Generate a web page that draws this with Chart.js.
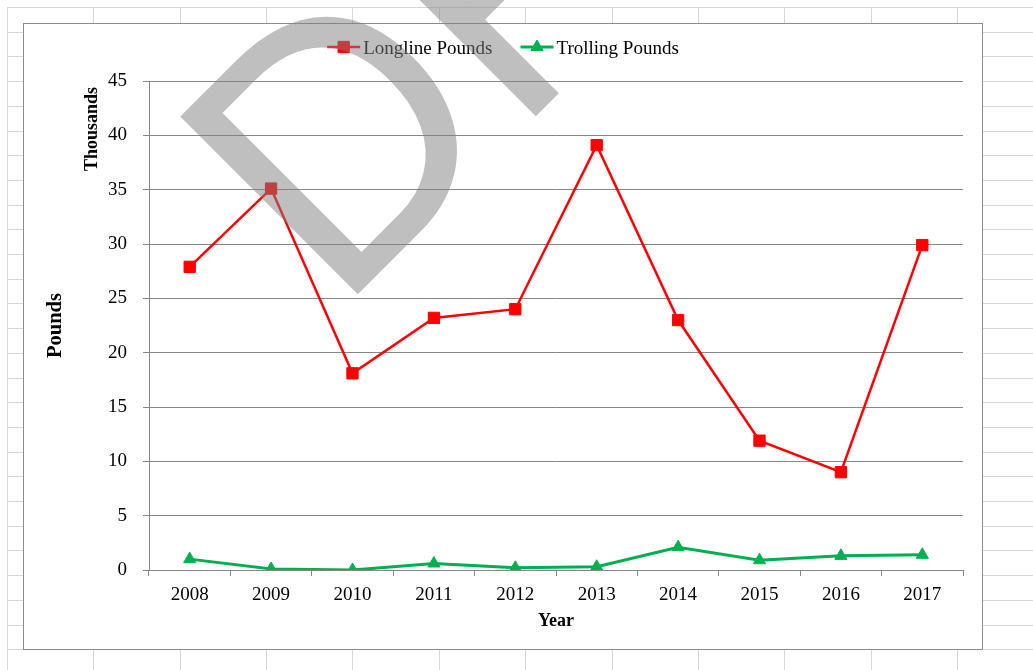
<!DOCTYPE html>
<html>
<head>
<meta charset="utf-8">
<title>Longline and Trolling Pounds</title>
<script src="https://cdn.jsdelivr.net/npm/chart.js@4.4.1/dist/chart.umd.min.js"></script>
<style>
  html, body { margin: 0; padding: 0; background: #fff; }
  body { width: 1033px; height: 670px; position: relative; overflow: hidden; }
  #sheet, #watermark { position: absolute; left: 0; top: 0; }
  #watermark { pointer-events: none; }
  #chart-box {
    position: absolute; left: 23px; top: 23px;
    width: 958px; height: 625px;
    border: 1px solid #8c8c8c; background: #fff;
  }
</style>
</head>
<body>
<canvas id="sheet" width="1033" height="670"></canvas>
<div id="chart-box"><canvas id="pounds-chart"></canvas></div>
<canvas id="watermark" width="1033" height="670"></canvas>
<script>
  // values in thousands of pounds
  const years = ['2008', '2009', '2010', '2011', '2012', '2013', '2014', '2015', '2016', '2017'];
  const longlinePounds = [27.9, 35.1, 18.1, 23.2, 24.0, 39.1, 23.0, 11.9, 9.0, 29.9];
  const trollingPounds = [1.0, 0.1, 0.0, 0.6, 0.2, 0.3, 2.1, 0.9, 1.3, 1.4];
  const yMin = 0;
  const yMax = 45;
  const yStep = 5;

  const serif = "'Liberation Serif', 'Times New Roman', serif";
  const axisGray = '#878787';

  // spreadsheet cells behind the chart
  const sheet = document.getElementById('sheet').getContext('2d');
  sheet.strokeStyle = '#d6d6d6';
  sheet.lineWidth = 1;
  for (let k = 0; k < 13; k++) {
    const x = Math.round(7 + k * 86.36) + 0.5;
    sheet.beginPath(); sheet.moveTo(x, 7); sheet.lineTo(x, 670); sheet.stroke();
  }
  for (let k = 0; k < 28; k++) {
    const y = Math.round(7 + k * 24.7) + 0.5;
    sheet.beginPath(); sheet.moveTo(7, y); sheet.lineTo(1033, y); sheet.stroke();
  }

  // legend: short line with the marker in the middle, like Excel
  const lineLegend = {
    id: 'lineLegend',
    afterDraw: function (chart) {
      const ctx = chart.ctx;
      const sets = chart.data.datasets;
      const lineLen = 33, textGap = 3, itemGap = 28, y = 23;
      ctx.save();
      ctx.font = '19px ' + serif;
      const widths = sets.map(ds => ctx.measureText(ds.label).width);
      let total = itemGap * (sets.length - 1);
      widths.forEach(w => { total += lineLen + textGap + w; });
      let x = chart.width / 2 - total / 2;
      sets.forEach(function (ds, i) {
        ctx.strokeStyle = ds.borderColor;
        ctx.lineWidth = ds.borderWidth;
        ctx.beginPath(); ctx.moveTo(x, y); ctx.lineTo(x + lineLen, y); ctx.stroke();
        ctx.fillStyle = ds.pointBackgroundColor;
        ctx.strokeStyle = ds.pointBorderColor;
        ctx.lineWidth = ds.pointBorderWidth;
        Chart.helpers.drawPoint(ctx, {
          pointStyle: ds.pointStyle, radius: ds.pointRadius,
          borderWidth: ds.pointBorderWidth, rotation: 0
        }, x + lineLen / 2, y);
        ctx.fillStyle = '#000';
        ctx.textAlign = 'left';
        ctx.textBaseline = 'alphabetic';
        ctx.fillText(ds.label, x + lineLen + textGap, y + 6.5);
        x += lineLen + textGap + widths[i] + itemGap;
      });
      ctx.restore();
    }
  };

  // Excel display units label
  const unitsLabel = {
    id: 'unitsLabel',
    afterDraw: function (chart) {
      const ctx = chart.ctx;
      const area = chart.chartArea;
      ctx.save();
      ctx.translate(area.left - 56.5, area.top + 48);
      ctx.rotate(-Math.PI / 2);
      ctx.font = 'bold 18px ' + serif;
      ctx.fillStyle = '#000';
      ctx.textAlign = 'center';
      ctx.textBaseline = 'middle';
      ctx.fillText('Thousands', 0, 0);
      ctx.restore();
    }
  };

  const ctx = document.getElementById('pounds-chart');
  new Chart(ctx, {
    type: 'line',
    data: {
      labels: years,
      datasets: [{
        label: 'Longline Pounds',
        data: longlinePounds,
        borderColor: '#ff0000',
        backgroundColor: '#ff0000',
        borderWidth: 2.5,
        pointStyle: 'rect',
        pointRadius: 8,
        pointBorderWidth: 1,
        pointBackgroundColor: '#ff0000',
        pointBorderColor: '#ff0000',
        tension: 0,
        fill: false
      }, {
        label: 'Trolling Pounds',
        data: trollingPounds,
        borderColor: '#00b050',
        backgroundColor: '#00b050',
        borderWidth: 3,
        pointStyle: 'triangle',
        pointRadius: 7,
        pointBorderWidth: 1,
        pointBackgroundColor: '#00b050',
        pointBorderColor: '#00b050',
        tension: 0,
        fill: false
      }]
    },
    options: {
      responsive: true,
      maintainAspectRatio: false,
      animation: false,
      layout: {
        padding: { top: 57, right: 19, bottom: 0, left: 0 }
      },
      scales: {
        x: {
          offset: true,
          afterFit: function (scale) { scale.height = 79; },
          grid: {
            display: true,
            drawOnChartArea: false,
            drawTicks: true,
            tickLength: 6,
            offset: true,
            color: axisGray
          },
          border: { color: axisGray, width: 1 },
          ticks: {
            color: '#000',
            padding: 8,
            maxRotation: 0,
            font: { family: serif, size: 19 }
          },
          title: {
            display: true,
            text: 'Year',
            color: '#000',
            padding: { top: 0, bottom: 17 },
            font: { family: serif, size: 18, weight: 'bold' }
          }
        },
        y: {
          min: yMin,
          max: yMax,
          afterFit: function (scale) { scale.width = 125; },
          grid: {
            color: axisGray,
            tickLength: 6
          },
          border: { color: axisGray, width: 1 },
          ticks: {
            stepSize: yStep,
            color: '#000',
            padding: 16,
            font: { family: serif, size: 19 }
          },
          title: {
            display: true,
            text: 'Pounds',
            color: '#000',
            padding: { top: 19, bottom: 0 },
            font: { family: serif, size: 20.5, weight: 'bold' }
          }
        }
      },
      plugins: {
        legend: { display: false },
        tooltip: { enabled: false }
      }
    },
    plugins: [lineLegend, unitsLabel]
  });

  // DRAFT watermark over everything
  const wm = document.getElementById('watermark').getContext('2d');
  wm.save();
  wm.translate(337.6, 314.4);
  wm.rotate(-Math.PI / 4);
  wm.scale(0.955, 1);
  wm.font = "365px 'Liberation Sans'";
  wm.fillStyle = 'rgba(128, 128, 128, 0.5)';
  wm.fillText('DRAFT', 0, 0);
  wm.restore();
</script>
</body>
</html>
